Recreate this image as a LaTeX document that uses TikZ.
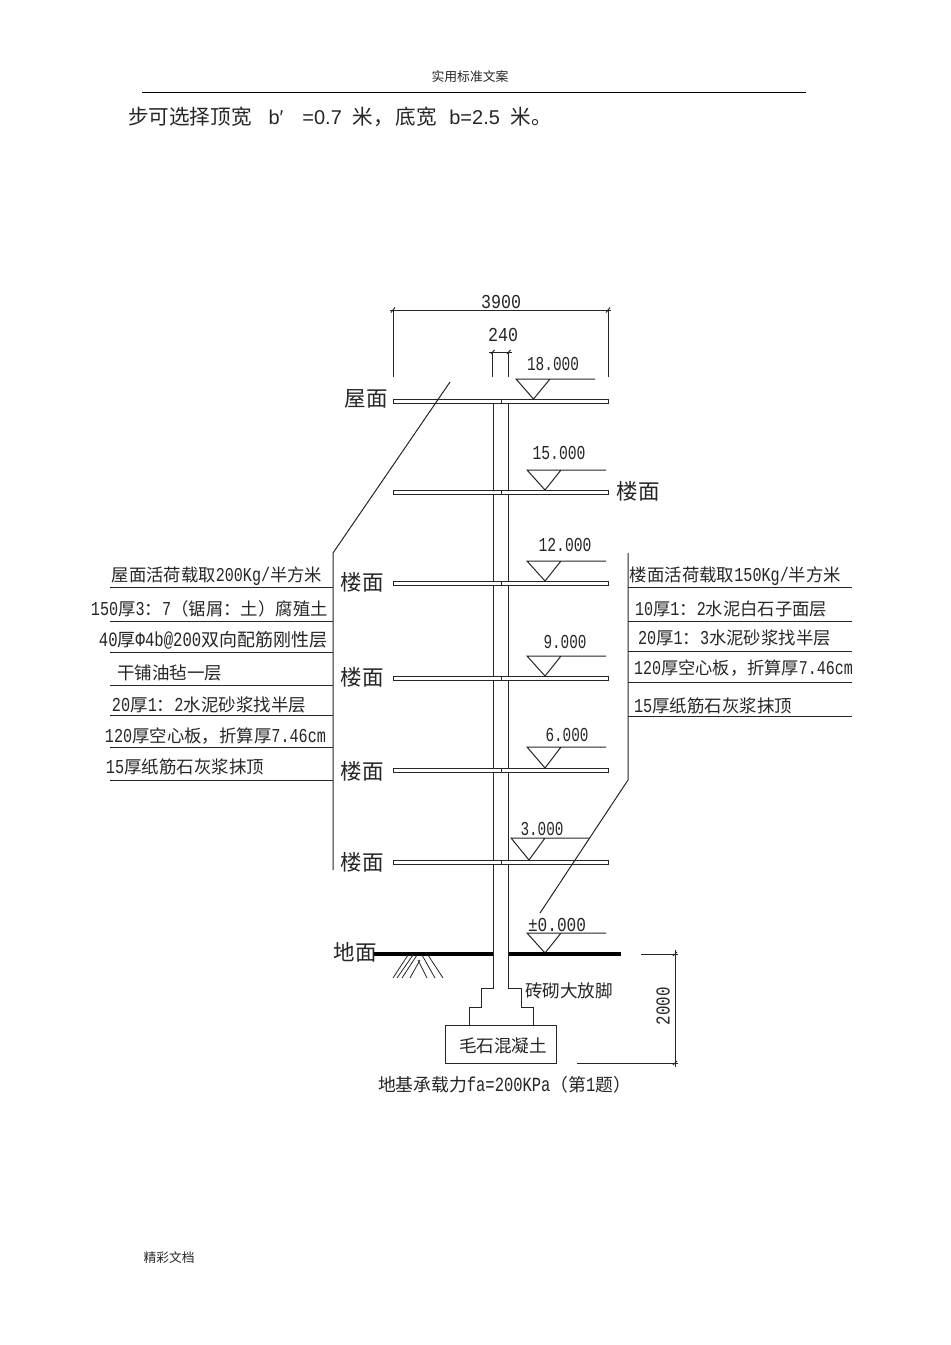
\documentclass[tikz,border=0pt]{standalone}
\usepackage{fontspec}
\usepackage{graphicx}
\setmainfont{Noto Sans CJK SC}
\newfontfamily\latinf[Scale=0.97]{Liberation Sans}
\newfontfamily\cadfont[Scale=0.87]{Liberation Mono}
\definecolor{ink}{gray}{0.15}
\newcommand{\fwcolon}{^^^^ff1a}
\newcommand{\fwleft}{^^^^ff08}
\newcommand{\fwright}{^^^^ff09}
\newcommand{\fwcomma}{^^^^ff0c}
\tikzset{
  wire/.style={draw=ink,line width=0.75pt},
  thin wire/.style={draw=ink,line width=0.6pt},
  ground/.style={draw=black,line width=2.4pt},
  lbl/.style={inner sep=0pt,outer sep=0pt,text=ink,anchor=center},
}
\newcommand{\fit}[2]{\resizebox{\dimexpr#1pt*3/4\relax}{!}{#2}}
\newcommand{\lat}[1]{\scalebox{1}[1.3]{\cadfont #1}}
% \tx{name}{x}{y}{width px}{text}
\newcommand{\tx}[5]{\node[lbl] (#1) at (#2,#3+1) {\fit{#4}{#5}};}
% \num{name}{x}{y}{width px}{digits}
\newcommand{\numfit}[2]{\resizebox{\dimexpr#1pt*3/4\relax}{9.9pt}{\cadfont #2}}
\newcommand{\num}[5]{\node[lbl] (#1) at (#2,#3) {\numfit{#4}{#5}};}
% \slabat{name}{y top}
\newcommand{\slabat}[2]{%
  \draw[wire,fill=white] (393,#2) rectangle (608,#2+4);
  \draw[wire] (501,#2) -- (501,#2+4);
  \coordinate (#1) at (501,#2);}
% \levelmark{x left}{y line}{y apex}
\newcommand{\levelmark}[3]{%
  \draw[wire] (#1+79,#2) -- (#1,#2) -- (#1+18,#3) -- (#1+34,#2);}
\begin{document}
\begin{tikzpicture}[x=0.75pt,y=-0.75pt]
\useasboundingbox (0,0) rectangle (950,1345);
\fill[white] (0,0) rectangle (950,1345);
% page furniture
\tx{hdr}{470}{76}{77}{实用标准文案}
\draw[draw=black,line width=0.6pt] (142,92) -- (806,92);
\node[lbl,anchor=west] (body) at (128,117) {\fontsize{15.45pt}{18pt}\selectfont 步可选择顶宽\hspace{12.75pt}{\latinf b′\hspace{14.25pt}=0.7}\hspace{7.9pt}米\fwcomma\hspace{1.5pt}底宽\hspace{9.4pt}{\latinf b=2.5}\hspace{7.9pt}米。};
\tx{ftr}{169}{1257}{51}{精彩文档}
% wall
\draw[wire] (493,403) -- (493,988) -- (481,988) -- (481,1007) -- (469,1007) -- (469,1025);
\draw[wire] (508.5,403) -- (508.5,988) -- (521,988) -- (521,1007) -- (533,1007) -- (533,1025);
\draw[wire] (445,1025) rectangle (556,1063);
% slabs
\slabat{s6}{399}\slabat{s5}{490}\slabat{s4}{581}\slabat{s3}{676}\slabat{s2}{768}\slabat{s1}{860}
% level marks
\draw[wire] (595,379) -- (516,379) -- (533.5,399) -- (550,379);
\levelmark{527}{470}{490}
\levelmark{527}{561}{581}
\levelmark{527}{656}{676}
\levelmark{527}{747}{768}
\levelmark{511}{838}{860}
\levelmark{527}{933}{953}
% ground
\draw[ground] (374,954) -- (493,954);
\draw[ground] (508.5,954) -- (621,954);
\draw[thin wire] (393,978) -- (408,955) (397,978) -- (413,955) (402,978) -- (417,955);
\draw[thin wire] (410,978) -- (420,960) (427,978) -- (418,960);
\draw[thin wire] (435,978) -- (422,955) (443,978) -- (428,955);
% dimension 3900
\draw[wire] (390,310) -- (611,310);
\draw[wire] (393,310) -- (393,377) (608,310) -- (608,377);
\draw[wire] (391,312.5) -- (395,307.5) (606,312.5) -- (610,307.5);
% dimension 240
\draw[wire] (489,352) -- (512,352);
\draw[wire] (492.7,352) -- (492.7,377) (508.7,352) -- (508.7,377);
\draw[wire] (491,354) -- (494.5,350) (507,354) -- (510.5,350);
% dimension 2000
\draw[wire] (641,954) -- (678,954);
\draw[wire] (577,1063) -- (678,1063);
\draw[wire] (675,950) -- (675,1067);
\draw[wire] (673,956) -- (677,952) (673,1065) -- (677,1061);
% leaders
\draw[wire] (450,382) -- (333,553) -- (333,870);
\draw[wire] (628,553) -- (628,780) -- (540,913);
\foreach \y in {587,621,652,685,715,747,780} \draw[wire] (110,\y) -- (333,\y);
\foreach \y in {587,621,651,682,716} \draw[wire] (628,\y) -- (852,\y);
% dimension and level text
\num{d3900}{501}{302}{40}{3900}
\num{d240}{503}{335}{30}{240}
\node[lbl,rotate=90] (d2000) at (663,1006) {\numfit{38}{2000}};
\num{l18}{553}{364}{52}{18.000}
\num{l15}{559}{453}{53}{15.000}
\num{l12}{565}{545}{53}{12.000}
\num{l9}{565}{642}{43}{9.000}
\num{l6}{567}{735}{43}{6.000}
\num{l3}{542}{829}{43}{3.000}
\num{l0}{557}{925}{58}{±0.000}
% floor names
\tx{n1}{366}{398}{43}{屋面}
\tx{n2}{638}{490}{43}{楼面}
\tx{n3}{362}{581}{43}{楼面}
\tx{n4}{362}{676}{43}{楼面}
\tx{n5}{362}{770}{43}{楼面}
\tx{n6}{362}{861}{43}{楼面}
\tx{n7}{355}{951}{43}{地面}
% left notes
\tx{a1}{217}{575}{210}{屋面活荷载取\lat{200Kg/}半方米}
\tx{a2}{209.5}{608}{237}{\lat{150}厚\lat{3}\fwcolon\lat{7}\fwleft 锯屑\fwcolon 土\fwright 腐殖土}
\tx{a3}{213}{639}{228}{\lat{40}厚\lat{Φ4b@200}双向配筋刚性层}
\tx{a4}{169.5}{672}{105}{干铺油毡一层}
\tx{a5}{209}{704}{194}{\lat{20}厚\lat{1}\fwcolon\lat{2}水泥砂浆找半层}
\tx{a6}{215.5}{735}{221}{\lat{120}厚空心板\fwcomma 折算厚\lat{7.46cm}}
\tx{a7}{185}{766}{158}{\lat{15}厚纸筋石灰浆抹顶}
% right notes
\tx{b1}{735.5}{575}{211}{楼面活荷载取\lat{150Kg/}半方米}
\tx{b2}{731}{608}{192}{\lat{10}厚\lat{1}\fwcolon\lat{2}水泥白石子面层}
\tx{b3}{734.5}{637}{193}{\lat{20}厚\lat{1}\fwcolon\lat{3}水泥砂浆找半层}
\tx{b4}{743.5}{667}{219}{\lat{120}厚空心板\fwcomma 折算厚\lat{7.46cm}}
\tx{b5}{713}{705}{158}{\lat{15}厚纸筋石灰浆抹顶}
% foundation
\tx{f1}{569}{990}{88}{砖砌大放脚}
\tx{f2}{503}{1045}{88}{毛石混凝土}
\tx{f3}{500}{1084}{244}{地基承载力\lat{fa=200KPa}\fwleft 第\lat{1}题\fwright\hspace{-0.5em}}
\end{tikzpicture}
\end{document}
